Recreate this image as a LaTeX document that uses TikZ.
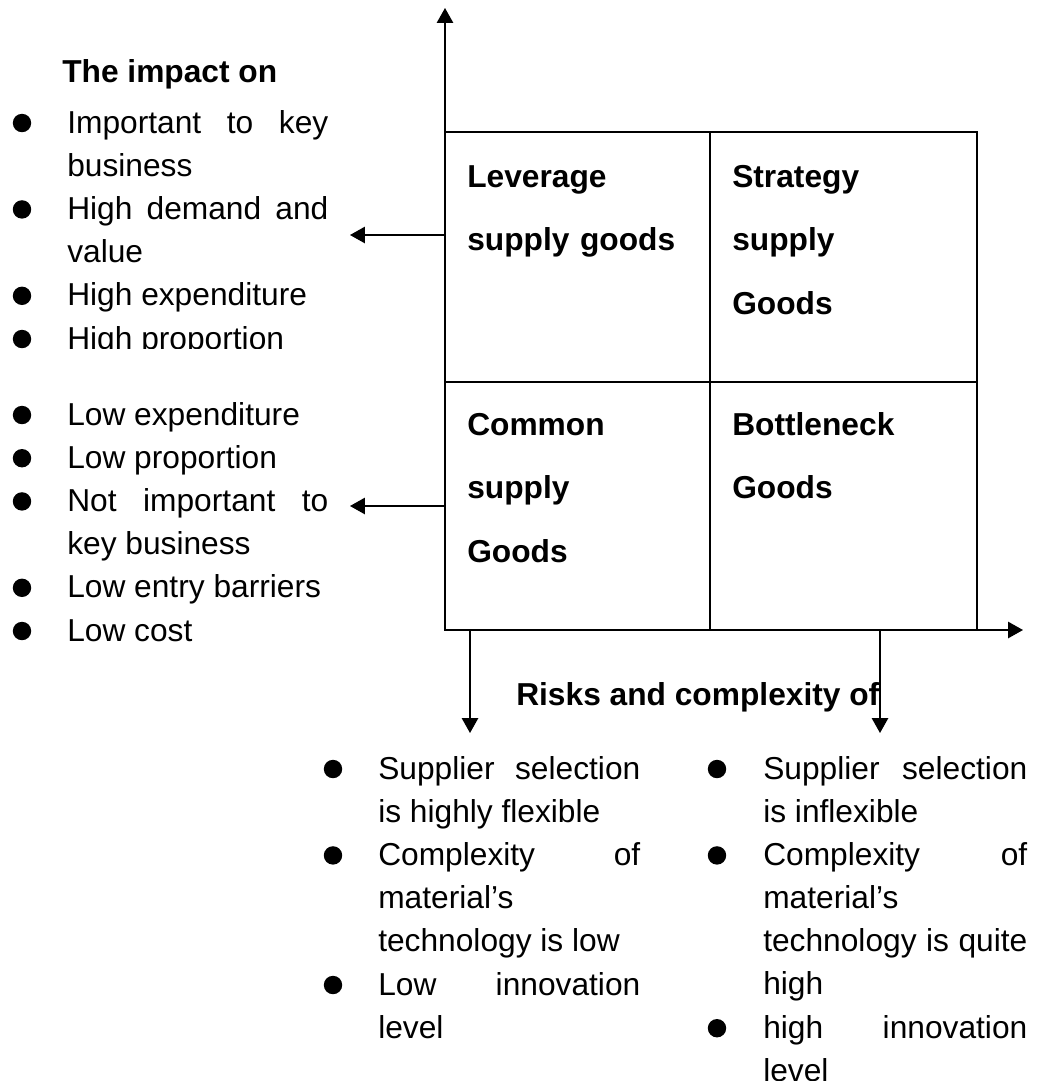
\documentclass[tikz,border=0pt]{standalone}
\usepackage{fontspec}
\setmainfont{Liberation Sans}
\usetikzlibrary{arrows.meta}
\hyphenpenalty=10000
\exhyphenpenalty=10000
\tolerance=10000
\newcommand\txtsize{\fontsize{22.55pt}{30.7pt}\selectfont}
\newcommand\cellsize{\fontsize{22.55pt}{45.5pt}\selectfont}
\tikzset{
  ax/.style={line width=1.1pt,-{Triangle[length=10.5pt,width=11.5pt]}},
  boxline/.style={line width=1.1pt},
  blt/.style={circle,fill,inner sep=0,minimum size=0.46cm},
  itm/.style={anchor=base west,inner sep=0,align=justify,font=\txtsize},
  hd/.style={anchor=base west,inner sep=0,font=\txtsize\bfseries},
  cell/.style={anchor=base west,inner sep=0,align=left,text width=5.9cm,font=\cellsize\bfseries}
}
\begin{document}
\begin{tikzpicture}[x=0.025cm,y=-0.025cm]
    \useasboundingbox (0,0) rectangle (1042,1081);

    \node[hd] (imp) at (62,82) {The impact on};
    \begin{scope}
      \clip (0,0) rectangle (440,348);
      \foreach \y/\t [count=\i] in {133/Important to key business,219.4/High demand and value,305.8/High expenditure,349/High proportion}{
        \node[blt] (hb\i) at (22,\y-10) {};
        \node[itm,text width=6.525cm] (hi\i) at (67,\y) {\t};
      }
    \end{scope}
    \foreach \y/\t [count=\i] in {425/Low expenditure,468.2/Low proportion,511.4/Not important to key business,597.8/Low entry barriers,641/Low cost}{
      \node[blt] (lb\i) at (22,\y-10) {};
      \node[itm,text width=6.525cm] (li\i) at (67,\y) {\t};
    }

    \node[cell] (lev) at (467,187) {Leverage\\supply goods};
    \node[cell] (str) at (732,187) {Strategy\\supply\\Goods};
    \node[cell] (com) at (467,435) {Common\\supply\\Goods};
    \node[cell] (bot) at (732,435) {Bottleneck\\Goods};

    \node[hd] (risk) at (516,705) {Risks and complexity of};
    \foreach \y/\t [count=\i] in {779/Supplier selection is highly flexible,865.4/Complexity~of material’s technology is low,995/Low innovation level}{
      \node[blt] (fb\i) at (333,\y-10) {};
      \node[itm,text width=6.55cm] (fi\i) at (378,\y) {\t};
    }
    \foreach \y/\t [count=\i] in {779/Supplier selection is inflexible,865.4/Complexity~of material’s technology is quite high,1038.2/high innovation level}{
      \node[blt] (rb\i) at (717,\y-10) {};
      \node[itm,text width=6.6cm] (ri\i) at (763,\y) {\t};
    }

    \draw[boxline] (445,132) rectangle (977,630) (710,132) -- (710,630) (445,382) -- (977,382);

    \coordinate (o) at (445,630);
    \coordinate (yt) at (445,8);
    \coordinate (xt) at (1023,630);
    \draw[ax] (o) -- (yt);
    \draw[ax] (o) -- (xt);

    \foreach \n/\y in {hi/235,lo/506}{
      \coordinate (\n s) at (445,\y);
      \coordinate (\n e) at (350,\y);
      \draw[ax] (\n s) -- (\n e);
    }
    \foreach \n/\x in {fl/470,ri/880}{
      \coordinate (\n s) at (\x,630);
      \coordinate (\n e) at (\x,733);
      \draw[ax] (\n s) -- (\n e);
    }
\end{tikzpicture}
\end{document}
